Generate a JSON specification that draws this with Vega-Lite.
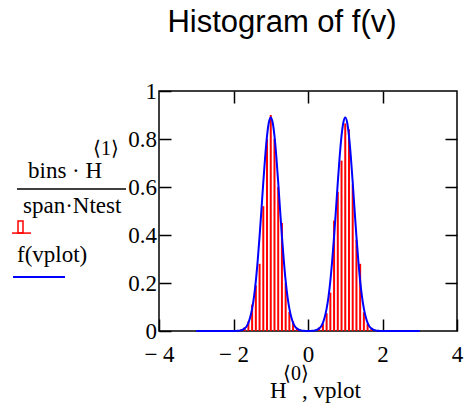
{
  "$schema": "https://vega.github.io/schema/vega-lite/v6.json",
  "autosize": {"type": "none"},
  "width": 298,
  "height": 240,
  "padding": {"left": 159, "top": 91, "right": 15, "bottom": 86},
  "background": "white",
  "title": {"text": "Histogram of f(v)", "font": "Liberation Sans", "fontSize": 31, "fontWeight": "normal", "color": "black", "anchor": "middle", "dx": -26, "baseline": "alphabetic", "offset": 17},
  "config": {
    "view": {"stroke": "black", "strokeWidth": 1.5},
    "axis": {"domain": false, "grid": false, "tickColor": "black", "tickWidth": 1.5, "tickSize": -12, "labelFont": "Liberation Serif", "labelFontSize": 23, "labelColor": "black", "title": null}
  },
  "datasets": {
    "bars": [
      {"bin": -1.8, "density": 0.006}, {"bin": -1.7, "density": 0.015}, {"bin": -1.6, "density": 0.04},
      {"bin": -1.5, "density": 0.11}, {"bin": -1.4, "density": 0.19}, {"bin": -1.3, "density": 0.28},
      {"bin": -1.2, "density": 0.52}, {"bin": -1.1, "density": 0.8}, {"bin": -1.0, "density": 0.9},
      {"bin": -0.9, "density": 0.8}, {"bin": -0.8, "density": 0.6}, {"bin": -0.7, "density": 0.45},
      {"bin": -0.6, "density": 0.2}, {"bin": -0.5, "density": 0.08}, {"bin": -0.4, "density": 0.04},
      {"bin": -0.3, "density": 0.011},
      {"bin": 0.3, "density": 0.015}, {"bin": 0.4, "density": 0.03}, {"bin": 0.5, "density": 0.074},
      {"bin": 0.6, "density": 0.16}, {"bin": 0.7, "density": 0.46}, {"bin": 0.8, "density": 0.58},
      {"bin": 0.9, "density": 0.71}, {"bin": 1.0, "density": 0.865}, {"bin": 1.1, "density": 0.84},
      {"bin": 1.2, "density": 0.61}, {"bin": 1.3, "density": 0.38}, {"bin": 1.4, "density": 0.28},
      {"bin": 1.5, "density": 0.078}, {"bin": 1.6, "density": 0.03}, {"bin": 1.7, "density": 0.01}
    ],
    "curve": [
      {"v": -3.0, "f": 0}, {"v": -2.5, "f": 0}, {"v": -2.0, "f": 0}, {"v": -1.95, "f": 0},
      {"v": -1.9, "f": 0.001}, {"v": -1.85, "f": 0.001}, {"v": -1.8, "f": 0.003}, {"v": -1.75, "f": 0.006},
      {"v": -1.7, "f": 0.011}, {"v": -1.65, "f": 0.019}, {"v": -1.6, "f": 0.034}, {"v": -1.55, "f": 0.058},
      {"v": -1.5, "f": 0.093}, {"v": -1.45, "f": 0.142}, {"v": -1.4, "f": 0.209}, {"v": -1.35, "f": 0.294},
      {"v": -1.3, "f": 0.394}, {"v": -1.25, "f": 0.505}, {"v": -1.2, "f": 0.62}, {"v": -1.15, "f": 0.726},
      {"v": -1.1, "f": 0.813}, {"v": -1.05, "f": 0.87}, {"v": -1.0, "f": 0.89}, {"v": -0.95, "f": 0.87},
      {"v": -0.9, "f": 0.813}, {"v": -0.85, "f": 0.726}, {"v": -0.8, "f": 0.62}, {"v": -0.75, "f": 0.505},
      {"v": -0.7, "f": 0.394}, {"v": -0.65, "f": 0.294}, {"v": -0.6, "f": 0.209}, {"v": -0.55, "f": 0.142},
      {"v": -0.5, "f": 0.093}, {"v": -0.45, "f": 0.058}, {"v": -0.4, "f": 0.034}, {"v": -0.35, "f": 0.019},
      {"v": -0.3, "f": 0.011}, {"v": -0.25, "f": 0.006}, {"v": -0.2, "f": 0.003}, {"v": -0.15, "f": 0.001},
      {"v": -0.1, "f": 0.001}, {"v": -0.05, "f": 0}, {"v": 0.0, "f": 0}, {"v": 0.05, "f": 0},
      {"v": 0.1, "f": 0.001}, {"v": 0.15, "f": 0.001}, {"v": 0.2, "f": 0.003}, {"v": 0.25, "f": 0.006},
      {"v": 0.3, "f": 0.011}, {"v": 0.35, "f": 0.019}, {"v": 0.4, "f": 0.034}, {"v": 0.45, "f": 0.058},
      {"v": 0.5, "f": 0.093}, {"v": 0.55, "f": 0.142}, {"v": 0.6, "f": 0.209}, {"v": 0.65, "f": 0.294},
      {"v": 0.7, "f": 0.394}, {"v": 0.75, "f": 0.505}, {"v": 0.8, "f": 0.62}, {"v": 0.85, "f": 0.726},
      {"v": 0.9, "f": 0.813}, {"v": 0.95, "f": 0.87}, {"v": 1.0, "f": 0.89}, {"v": 1.05, "f": 0.87},
      {"v": 1.1, "f": 0.813}, {"v": 1.15, "f": 0.726}, {"v": 1.2, "f": 0.62}, {"v": 1.25, "f": 0.505},
      {"v": 1.3, "f": 0.394}, {"v": 1.35, "f": 0.294}, {"v": 1.4, "f": 0.209}, {"v": 1.45, "f": 0.142},
      {"v": 1.5, "f": 0.093}, {"v": 1.55, "f": 0.058}, {"v": 1.6, "f": 0.034}, {"v": 1.65, "f": 0.019},
      {"v": 1.7, "f": 0.011}, {"v": 1.75, "f": 0.006}, {"v": 1.8, "f": 0.003}, {"v": 1.85, "f": 0.001},
      {"v": 1.9, "f": 0.001}, {"v": 1.95, "f": 0}, {"v": 2.0, "f": 0}, {"v": 2.5, "f": 0}, {"v": 3.0, "f": 0}
    ]
  },
  "resolve": {"axis": {"x": "independent", "y": "independent"}},
  "layer": [
    {
      "data": {"name": "bars"},
      "mark": {"type": "bar", "color": "#ff0000", "size": 2},
      "encoding": {
        "x": {"field": "bin", "type": "quantitative", "scale": {"domain": [-4, 4], "nice": false, "zero": false, "padding": 0},
              "axis": {"orient": "bottom", "values": [-4, -2, 0, 2, 4], "labelExpr": "datum.value < 0 ? '− ' + format(-datum.value, 'd') : format(datum.value, 'd')", "labelPadding": 24, "labelDx": 4, "labelFlush": false, "labelOverlap": false}},
        "y": {"field": "density", "type": "quantitative", "scale": {"domain": [0, 1], "nice": false, "padding": 0},
              "axis": {"orient": "left", "values": [0, 0.2, 0.4, 0.6, 0.8, 1], "labelExpr": "format(datum.value, '~g')", "labelPadding": 14.5, "labelDy": 4, "labelOverlap": false}}
      }
    },
    {
      "data": {"name": "curve"},
      "mark": {"type": "line", "color": "#0000ff", "strokeWidth": 2, "interpolate": "monotone"},
      "encoding": {
        "x": {"field": "v", "type": "quantitative", "axis": {"orient": "top", "values": [-2, 0, 2], "labels": false}},
        "y": {"field": "f", "type": "quantitative", "axis": {"orient": "right", "values": [0.2, 0.4, 0.6, 0.8], "labels": false}}
      }
    },
    {
      "data": {"values": [{}]},
      "mark": {"type": "text", "text": "bins · H", "font": "Liberation Serif", "fontSize": 23, "align": "left", "baseline": "alphabetic", "color": "black"},
      "encoding": {"x": {"datum": -7.517, "axis": null}, "y": {"datum": 0.6375, "axis": null}}
    },
    {
      "data": {"values": [{}]},
      "mark": {"type": "text", "text": "⟨1⟩", "font": "Liberation Serif", "fontSize": 20, "align": "left", "baseline": "alphabetic", "color": "black"},
      "encoding": {"x": {"datum": -5.772, "axis": null}, "y": {"datum": 0.733, "axis": null}}
    },
    {
      "data": {"values": [{}]},
      "mark": {"type": "rule", "color": "black", "strokeWidth": 1.5},
      "encoding": {"x": {"datum": -7.812, "axis": null}, "x2": {"datum": -4.886}, "y": {"datum": 0.5917, "axis": null}}
    },
    {
      "data": {"values": [{}]},
      "mark": {"type": "text", "text": "span·Ntest", "font": "Liberation Serif", "fontSize": 23, "align": "left", "baseline": "alphabetic", "color": "black"},
      "encoding": {"x": {"datum": -7.651, "axis": null}, "y": {"datum": 0.4917, "axis": null}}
    },
    {
      "data": {"values": [{}]},
      "mark": {"type": "rule", "color": "#ff0000", "strokeWidth": 1.5},
      "encoding": {"x": {"datum": -7.946, "axis": null}, "x2": {"datum": -7.436}, "y": {"datum": 0.408, "axis": null}}
    },
    {
      "data": {"values": [{}]},
      "mark": {"type": "rect", "fillOpacity": 0, "stroke": "#ff0000", "strokeWidth": 1.5},
      "encoding": {"x": {"datum": -7.785, "axis": null}, "x2": {"datum": -7.651}, "y": {"datum": 0.458, "axis": null}, "y2": {"datum": 0.408}}
    },
    {
      "data": {"values": [{}]},
      "mark": {"type": "text", "text": "f(vplot)", "font": "Liberation Serif", "fontSize": 23, "align": "left", "baseline": "alphabetic", "color": "black"},
      "encoding": {"x": {"datum": -7.812, "axis": null}, "y": {"datum": 0.2875, "axis": null}}
    },
    {
      "data": {"values": [{}]},
      "mark": {"type": "rule", "color": "#0000ff", "strokeWidth": 2},
      "encoding": {"x": {"datum": -7.919, "axis": null}, "x2": {"datum": -6.523}, "y": {"datum": 0.225, "axis": null}}
    },
    {
      "data": {"values": [{}]},
      "mark": {"type": "text", "text": "H", "font": "Liberation Serif", "fontSize": 23, "align": "left", "baseline": "alphabetic", "color": "black"},
      "encoding": {"x": {"datum": -1.02, "axis": null}, "y": {"datum": -0.279, "axis": null}}
    },
    {
      "data": {"values": [{}]},
      "mark": {"type": "text", "text": "⟨0⟩", "font": "Liberation Serif", "fontSize": 20, "align": "left", "baseline": "alphabetic", "color": "black"},
      "encoding": {"x": {"datum": -0.671, "axis": null}, "y": {"datum": -0.204, "axis": null}}
    },
    {
      "data": {"values": [{}]},
      "mark": {"type": "text", "text": ", vplot", "font": "Liberation Serif", "fontSize": 23, "align": "left", "baseline": "alphabetic", "color": "black"},
      "encoding": {"x": {"datum": -0.161, "axis": null}, "y": {"datum": -0.279, "axis": null}}
    }
  ]
}
